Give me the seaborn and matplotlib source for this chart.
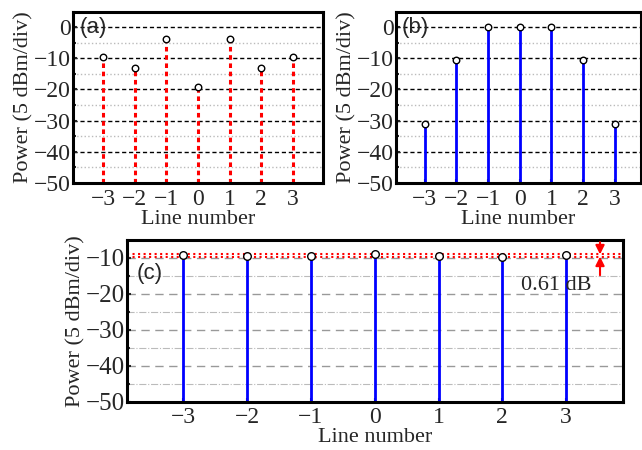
import numpy as np
import pandas as pd
import seaborn as sns
import matplotlib.pyplot as plt

line_number = [-3, -2, -1, 0, 1, 2, 3]
power_a = [-9.5, -13.0, -3.8, -19.1, -3.8, -13.0, -9.5]
power_b = [-31.0, -10.6, 0.0, 0.0, 0.0, -10.6, -31.0]
power_c = [-9.2, -9.55, -9.5, -9.0, -9.4, -9.61, -9.25]
flatness_label = '0.61 dB'
panel_labels = ['(a)', '(b)', '(c)']

sns.set_style('ticks')
plt.rcParams['font.family'] = ['Liberation Serif', 'DejaVu Serif']

fig = plt.figure(figsize=(6.42, 4.5), dpi=100)
ax_a = fig.add_axes([0.1137, 0.5933, 0.3894, 0.38])
ax_b = fig.add_axes([0.6168, 0.5933, 0.3816, 0.38])
ax_c = fig.add_axes([0.1978, 0.1073, 0.7726, 0.3593])


def minus(v):
    return str(int(v)).replace('-', '\u2212')


def style_axes(ax, yticks, grid, grid_style, minor_style, ticksize=17):
    for s in ax.spines.values():
        s.set_linewidth(2.2)
        s.set_color('black')
    ax.tick_params(direction='in', length=3, width=1.5, labelsize=ticksize, pad=4)
    ax.tick_params(axis='y', pad=1.5)
    ax.tick_params(which='minor', direction='in', length=2, width=1.5)
    ax.set_yticks(yticks)
    ax.set_yticklabels([minus(v) for v in yticks])
    ax.set_yticks(grid[1], minor=True)
    for y in grid[0]:
        ax.axhline(y, **grid_style, zorder=0)
    for y in grid[1]:
        ax.axhline(y, **minor_style, zorder=0)
    ax.set_xticks(line_number)
    ax.set_xticklabels([minus(v) for v in line_number])
    ax.set_ylabel('Power (5 dBm/div)', fontsize=16, labelpad=0)
    ax.set_xlabel('Line number', fontsize=16, labelpad=0)


top_grid = ([0, -10, -20, -30, -40], [-5, -15, -25, -35, -45])
top_major = dict(color='black', ls=(0, (3, 2)), lw=1.0)
top_minor = dict(color='#bbbbbb', ls=':', lw=1.0)
top_ticks = [-50, -40, -30, -20, -10, 0]

# (a)
df_a = pd.DataFrame({'line': line_number, 'power': power_a})
ax_a.vlines(df_a['line'], -50, df_a['power'], colors='red', linestyles=(0, (1.5, 1.2)), lw=2.2, zorder=2)
sns.scatterplot(data=df_a, x='line', y='power', ax=ax_a, marker='o', s=22,
                facecolor='white', edgecolor='black', linewidth=1.0, zorder=3)
ax_a.set_xlim(-3.95, 3.95)
ax_a.set_ylim(-50, 4.8)
style_axes(ax_a, top_ticks, top_grid, top_major, top_minor)
ax_a.text(0.025, 0.97, panel_labels[0], transform=ax_a.transAxes, fontsize=16,
          family='Liberation Sans', va='top', ha='left')

# (b)
df_b = pd.DataFrame({'line': line_number, 'power': power_b})
ax_b.vlines(df_b['line'], -50, df_b['power'], colors='blue', lw=2.0, zorder=2)
sns.scatterplot(data=df_b, x='line', y='power', ax=ax_b, marker='o', s=22,
                facecolor='white', edgecolor='black', linewidth=1.0, zorder=3)
ax_b.set_xlim(-3.9, 3.82)
ax_b.set_ylim(-50, 4.8)
style_axes(ax_b, top_ticks, top_grid, top_major, top_minor)
ax_b.text(0.025, 0.97, panel_labels[1], transform=ax_b.transAxes, fontsize=16,
          family='Liberation Sans', va='top', ha='left')

# (c)
df_c = pd.DataFrame({'line': line_number, 'power': power_c})
c_grid = ([-10, -20, -30, -40], [-15, -25, -35, -45])
c_major = dict(color='#999999', ls=(0, (6, 4)), lw=1.0)
c_minor = dict(color='#bbbbbb', ls='-.', lw=0.8)
ax_c.vlines(df_c['line'], -50, df_c['power'], colors='blue', lw=2.0, zorder=2)
pmax, pmin = max(power_c), min(power_c)
ax_c.axhline(pmax, color='red', ls=':', lw=1.5, zorder=2)
ax_c.axhline(pmin, color='red', ls=':', lw=1.5, zorder=2)
sns.scatterplot(data=df_c, x='line', y='power', ax=ax_c, marker='o', s=30,
                facecolor='white', edgecolor='black', linewidth=1.0, zorder=3)
ax_c.set_xlim(-3.88, 3.89)
ax_c.set_ylim(-50, -5)
style_axes(ax_c, [-50, -40, -30, -20, -10], c_grid, c_major, c_minor, ticksize=18)
ax_c.tick_params(axis='x', labelsize=17)
arrow = dict(arrowstyle='-|>', color='red', lw=1.5, mutation_scale=13, shrinkA=0, shrinkB=0)
ax_c.annotate('', xy=(3.53, pmax), xytext=(3.53, -5.6), arrowprops=arrow)
ax_c.annotate('', xy=(3.53, pmin), xytext=(3.53, -14.8), arrowprops=arrow)
ax_c.text(2.3, -17.6, flatness_label, fontsize=16, va='center', ha='left')
ax_c.text(0.02, 0.86, panel_labels[2], transform=ax_c.transAxes, fontsize=16,
          family='Liberation Sans', va='top', ha='left')

fig.savefig('out.png', dpi=100)
